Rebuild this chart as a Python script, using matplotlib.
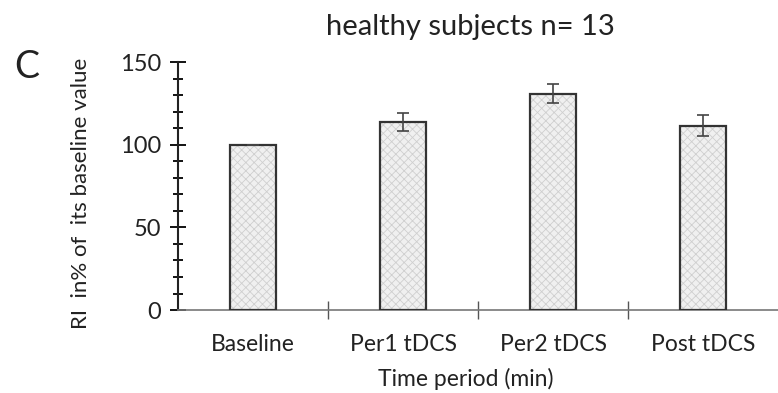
import numpy as np
import matplotlib.pyplot as plt

categories = ["Baseline", "Per1 tDCS", "Per2 tDCS", "Post tDCS"]
means = [100, 114, 131, 111.5]
errors = [0, 5.5, 6, 6.5]

plt.rcParams['font.family'] = ['Lato', 'DejaVu Sans']
plt.rcParams['hatch.linewidth'] = 0.6

fig = plt.figure(figsize=(7.78, 3.93), dpi=100)
ax = fig.add_axes([0.229, 0.211, 0.771, 0.631])

x = np.arange(len(categories))
# relleno punteado y contorno por separado
ax.bar(x, means, width=0.31, color='#f0f0f0', edgecolor='#cfcfcf', hatch='xxxx', linewidth=0, zorder=2)
ax.bar(x, means, width=0.31, fill=False, edgecolor='#333333', linewidth=1.6, zorder=3)
ax.errorbar(x, means, yerr=errors, fmt='none', ecolor='#444444', elinewidth=1.2, capsize=4, capthick=1.2, zorder=4)

ax.set_xlim(-0.5, 3.5)
ax.set_ylim(0, 150)
ax.set_yticks([0, 50, 100, 150])
ax.set_yticks(np.arange(0, 151, 10), minor=True)
ax.tick_params(axis='y', which='major', direction='inout', length=12, width=1.3, labelsize=17, pad=6, labelcolor='#222222')
ax.tick_params(axis='y', which='minor', direction='inout', length=7, width=1.3)
ax.set_xticks(x)
ax.set_xticklabels(categories, fontsize=16.5, color='#222222')
ax.set_xticks([0.5, 1.5, 2.5], minor=True)
ax.tick_params(axis='x', which='major', length=0, pad=17)
ax.tick_params(axis='x', which='minor', direction='inout', length=13, width=1, color='#555555')

for s in ['top', 'right']:
    ax.spines[s].set_visible(False)
ax.spines['left'].set_linewidth(1.5)
ax.spines['left'].set_color('#222222')
ax.spines['bottom'].set_linewidth(1.2)
ax.spines['bottom'].set_color('#777777')

ax.set_ylabel("RI  in% of  its baseline value", fontsize=16, color='#222222')
ax.yaxis.set_label_coords(-0.146, 0.47)
ax.set_xlabel("Time period (min)", fontsize=16.5, color='#222222')
ax.xaxis.set_label_coords(0.48, -0.235)
fig.text(470 / 778, 1 - 27 / 393, "healthy subjects n= 13", fontsize=21, ha='center', va='center', color='#222222')
fig.text(27 / 778, 1 - 67 / 393, "C", fontsize=27, ha='center', va='center', color='#222222')

fig.savefig("out.png", dpi=100)
